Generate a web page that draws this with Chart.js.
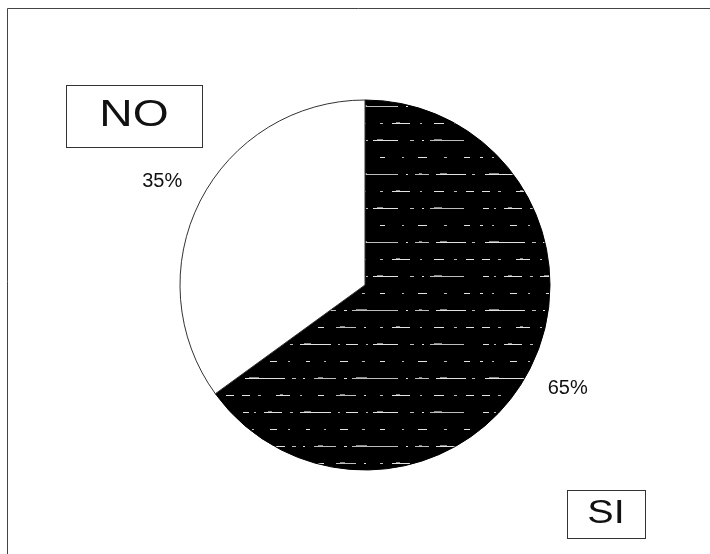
<!DOCTYPE html>
<html>
<head>
<meta charset="utf-8">
<script src="https://cdn.jsdelivr.net/npm/chart.js@4/dist/chart.umd.min.js"></script>
<style>
    html, body { margin: 0; padding: 0; background: #fff; }
    #pie { display: block; }
</style>
</head>
<body>
<canvas id="pie" width="710" height="554"></canvas>
<script>
    // ── Data ───────────────────────────────────
    const labels = ['SI', 'NO'];
    const values = [65, 35];

    // ── Fill for the dark slice: black with broken light streaks ──
    function streakPattern() {
        const c = document.createElement('canvas');
        c.width = 240; c.height = 68;
        const g = c.getContext('2d');
        g.fillStyle = '#000';
        g.fillRect(0, 0, c.width, c.height);
        const rows = [
            [[3, 6], [14, 2], [24, 18], [50, 3], [60, 31], [98, 2], [106, 12], [126, 2], [133, 25], [170, 4], [182, 2], [190, 34]],
            [[0, 3], [12, 2], [30, 7], [48, 2], [66, 4], [84, 2], [100, 8], [122, 3], [140, 5], [162, 2], [178, 9], [204, 3], [224, 6]],
            [[5, 40], [52, 4], [63, 2], [74, 22], [104, 3], [112, 46], [166, 2], [175, 14], [196, 30], [232, 3]],
            [[2, 8], [18, 3], [36, 14], [60, 2], [78, 6], [96, 20], [124, 2], [140, 3], [152, 18], [180, 2], [194, 10], [214, 3], [226, 8]]
        ];
        rows.forEach((row, r) => row.forEach(([x, w], k) => {
            g.fillStyle = k % 2 ? '#bdbdbd' : '#e2e2e2';
            g.fillRect(x, 4 + r * 17, w, 1);
            if (w > 12) {
                g.fillStyle = '#8a8a8a';
                g.fillRect(x + 4, 3 + r * 17, Math.floor(w / 4), 1);
            }
        }));
        return g.createPattern(c, 'repeat');
    }

    // ── Frame, legend boxes and value labels ───
    const boxes = [
        { x: 606, y: 514, w: 78, h: 48, size: 33, stretch: 1.2 },   // SI
        { x: 134, y: 116, w: 136, h: 62, size: 37, stretch: 1.25 }  // NO
    ];

    function stretchedText(ctx, text, x, y, size, stretch) {
        ctx.save();
        ctx.translate(x, y);
        ctx.scale(stretch, 1);
        ctx.font = `${size}px "Liberation Sans", Arial, sans-serif`;
        ctx.textAlign = 'center';
        ctx.textBaseline = 'middle';
        ctx.fillStyle = '#111';
        ctx.fillText(text, 0, 0);
        ctx.restore();
    }

    const decor = {
        id: 'decor',
        beforeDraw(chart) {
            const ctx = chart.ctx;
            ctx.save();
            ctx.fillStyle = '#fff';
            ctx.fillRect(0, 0, chart.width, chart.height);
            ctx.strokeStyle = '#444';
            ctx.lineWidth = 1;
            ctx.beginPath();
            ctx.moveTo(7.5, chart.height);
            ctx.lineTo(7.5, 8.5);
            ctx.lineTo(chart.width, 8.5);
            ctx.stroke();
            ctx.restore();
        },
        afterDatasetsDraw(chart) {
            const ctx = chart.ctx;
            const arcs = chart.getDatasetMeta(0).data;
            const data = chart.data.datasets[0].data;

            arcs.forEach((arc, i) => {
                const { x, y, startAngle, endAngle, outerRadius } = arc.getProps(
                    ['x', 'y', 'startAngle', 'endAngle', 'outerRadius'], true);
                const mid = (startAngle + endAngle) / 2;
                const r = outerRadius * 1.23;
                ctx.save();
                ctx.font = '20px "Liberation Sans", Arial, sans-serif';
                ctx.fillStyle = '#111';
                ctx.textAlign = 'center';
                ctx.textBaseline = 'middle';
                ctx.fillText(data[i] + '%', x + Math.cos(mid) * r, y + Math.sin(mid) * r);
                ctx.restore();

                const b = boxes[i];
                ctx.save();
                ctx.strokeStyle = '#333';
                ctx.lineWidth = 1;
                ctx.strokeRect(Math.round(b.x - b.w / 2) + 0.5, Math.round(b.y - b.h / 2) + 0.5, b.w, b.h);
                ctx.restore();
                stretchedText(ctx, chart.data.labels[i], b.x, b.y, b.size, b.stretch);
            });
        }
    };

    // ── Chart ──────────────────────────────────
    new Chart(document.getElementById('pie').getContext('2d'), {
        type: 'pie',
        data: {
            labels,
            datasets: [{
                data: values,
                backgroundColor: [streakPattern(), '#ffffff'],
                borderColor: ['#000', '#333'],
                borderWidth: 1,
                hoverOffset: 0,
                radius: 185
            }]
        },
        options: {
            responsive: false,
            animation: false,
            layout: { padding: { left: 20, top: 16 } },
            plugins: {
                legend: { display: false },
                tooltip: { enabled: false }
            }
        },
        plugins: [decor]
    });
</script>
</body>
</html>
